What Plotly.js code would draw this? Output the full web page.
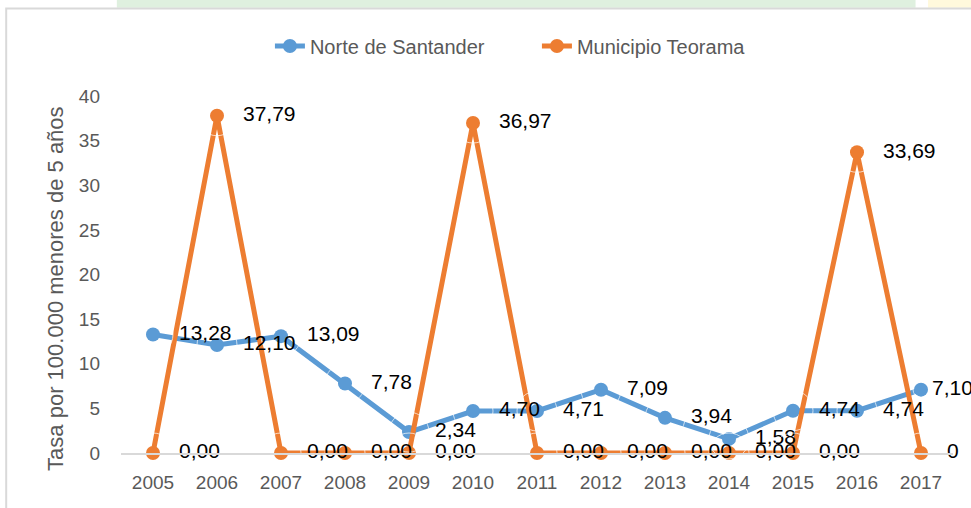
<!DOCTYPE html>
<html>
<head>
<meta charset="utf-8">
<script src="https://cdn.plot.ly/plotly-3.0.1.min.js"></script>
<style>
html,body{margin:0;padding:0;background:#fff;}
#chart{width:971px;height:508px;}
</style>
</head>
<body>
<div id="chart"></div>
<script>
const years = ["2005","2006","2007","2008","2009","2010","2011","2012","2013","2014","2015","2016","2017"];
const norteValues = [13.28, 12.10, 13.09, 7.78, 2.34, 4.70, 4.71, 7.09, 3.94, 1.58, 4.74, 4.74, 7.10];
const norteLabels = ["13,28","12,10","13,09","7,78","2,34","4,70","4,71","7,09","3,94","1,58","4,74","4,74","7,10"];
const teoramaValues = [0, 37.79, 0, 0, 0, 36.97, 0, 0, 0, 0, 0, 33.69, 0];
const teoramaLabels = ["0,00","37,79","0,00","0,00","0,00","36,97","0,00","0,00","0,00","0,00","0,00","33,69","0"];
const seriesNames = ["Norte de Santander", "Municipio Teorama"];
const yTitle = "Tasa por 100.000 menores de 5 años";

const FONT = "Liberation Sans, Arial, sans-serif";
const BLUE = "#5B9BD5", ORANGE = "#ED7D31";

function lineTrace(ys, name, color) {
  return {
    x: years, y: ys, name: name,
    type: "scatter", mode: "lines+markers",
    line: {color: color, width: 5},
    marker: {color: color, size: 14},
    cliponaxis: false, hoverinfo: "skip"
  };
}
function labelTrace(ys, texts, tightLast) {
  // invisible wide markers push the "middle right" labels away from the points
  const sizes = years.map((_, i) => (tightLast && i === years.length - 1) ? 16 : 40);
  return {
    x: years, y: ys, text: texts, showlegend: false,
    type: "scatter", mode: "markers+text",
    marker: {color: "rgba(0,0,0,0)", size: sizes},
    textposition: "middle right",
    textfont: {family: FONT, size: 21, color: "#000"},
    cliponaxis: false, hoverinfo: "skip"
  };
}

const traces = [
  lineTrace(norteValues, seriesNames[0], BLUE),
  lineTrace(teoramaValues, seriesNames[1], ORANGE),
  labelTrace(norteValues, norteLabels, true),
  labelTrace(teoramaValues, teoramaLabels, false)
];

const layout = {
  width: 971, height: 508,
  margin: {l: 121, r: 18, t: 96, b: 55},
  paper_bgcolor: "#fff", plot_bgcolor: "rgba(0,0,0,0)",
  font: {family: FONT, color: "#595959", size: 20},
  showlegend: true,
  legend: {orientation: "h", x: 0.179, xanchor: "left", y: 1.14, yanchor: "middle",
           font: {family: FONT, size: 20, color: "#595959"}, entrywidth: 222, traceorder: "normal"},
  xaxis: {
    type: "category", range: [-0.5, 12.5], showgrid: false, zeroline: false,
    showline: true, linecolor: "#D9D9D9", linewidth: 2,
    ticks: "", ticklabelstandoff: 11,
    tickfont: {family: FONT, size: 19, color: "#595959"}
  },
  yaxis: {
    range: [0, 40], dtick: 5, showgrid: false, zeroline: false, showline: false,
    ticks: "", ticklabelstandoff: 20,
    tickfont: {family: FONT, size: 19, color: "#595959"}
  },
  annotations: [
    {text: yTitle, xref: "paper", yref: "paper", x: -0.078, y: 0.46, xanchor: "center", yanchor: "middle",
     textangle: -90, showarrow: false, font: {family: FONT, size: 22, color: "#595959"}}
  ],
  shapes: [
    {type: "rect", xref: "paper", yref: "paper", x0: -0.005, x1: 0.955, y0: 1.247, y1: 1.3, fillcolor: "#DFF0DF", line: {width: 0}, layer: "below"},
    {type: "rect", xref: "paper", yref: "paper", x0: 0.97, x1: 1.05, y0: 1.247, y1: 1.3, fillcolor: "#FFF9DC", line: {width: 0}, layer: "below"},
    {type: "rect", xref: "paper", yref: "paper", x0: -0.138, x1: 1.1, y0: -0.3, y1: 1.245, fillcolor: "rgba(0,0,0,0)", line: {color: "#D9D9D9", width: 2}, layer: "below"}
  ]
};

Plotly.newPlot("chart", traces, layout, {displayModeBar: false, staticPlot: true});
</script>
</body>
</html>
